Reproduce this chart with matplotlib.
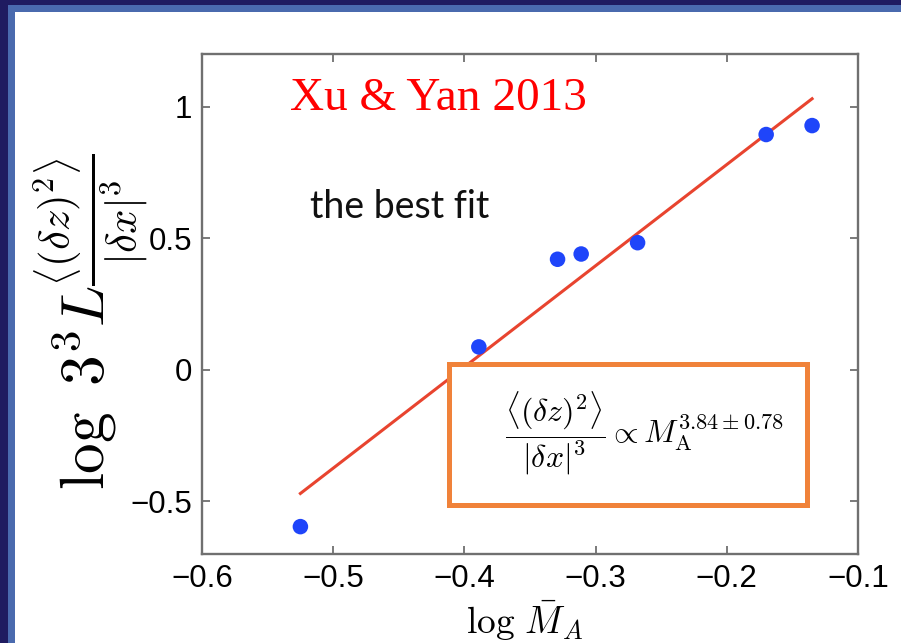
import matplotlib
matplotlib.use("Agg")
import matplotlib.pyplot as plt
from matplotlib.patches import Rectangle

plt.rcParams['mathtext.fontset'] = 'cm'

# Measured points and best-fit line
log_ma = [-0.525, -0.389, -0.329, -0.311, -0.268, -0.170, -0.135]
log_ratio = [-0.596, 0.087, 0.420, 0.440, 0.483, 0.894, 0.928]
fit_x = [-0.525, -0.135]
fit_y = [-0.47, 1.03]

x_ticks = [-0.6, -0.5, -0.4, -0.3, -0.2, -0.1]
y_ticks = [-0.5, 0, 0.5, 1]

fig = plt.figure(figsize=(9.01, 6.43), dpi=100)
fig.patch.set_facecolor('#1f1b60')

# slide frame: light blue stripe and white panel
W, H = 901.0, 643.0
fig.patches.append(Rectangle((8 / W, 0), 1, (H - 5) / H, transform=fig.transFigure,
                             facecolor='#4a6aae', edgecolor='none', zorder=-10))
fig.patches.append(Rectangle((15 / W, 0), 1, (H - 12) / H, transform=fig.transFigure,
                             facecolor='white', edgecolor='none', zorder=-9))

ax = fig.add_axes([202 / W, 1 - 554 / H, 656 / W, 500 / H])
ax.set_facecolor('none')

ax.plot(fit_x, fit_y, color='#e8442f', linewidth=2.2, zorder=2)
ax.scatter(log_ma, log_ratio, s=125, color='#1f45fa', edgecolors='none', zorder=3)

ax.set_xlim(-0.6, -0.1)
ax.set_ylim(-0.7, 1.2)
ax.set_xticks(x_ticks)
ax.set_yticks(y_ticks)
ax.set_xticklabels(['\u22120.6', '\u22120.5', '\u22120.4', '\u22120.3', '\u22120.2', '\u22120.1'])
ax.set_yticklabels(['\u22120.5', '0', '0.5', '1'])
ax.tick_params(direction='in', length=6, width=1.3, color='#707070',
               top=True, right=True, pad=7, labelsize=22.5)
for lab in ax.get_xticklabels() + ax.get_yticklabels():
    lab.set_fontfamily('Liberation Sans')
for sp in ax.spines.values():
    sp.set_color('#707070')
    sp.set_linewidth(1.7)

ax.set_xlabel(r'$\log\,\bar{M}_A$', fontsize=27)
ax.xaxis.set_label_coords(0.492, -0.088)
ax.set_ylabel(r'$\log\ 3^3 L \frac{\left\langle(\delta z)^2\right\rangle}{|\delta x|^3}$',
              fontsize=44)
ax.yaxis.set_label_coords(-0.08, 0.465)

ax.text(0.134, 0.888, 'Xu & Yan 2013', transform=ax.transAxes, color='red',
        fontsize=34, family='Liberation Serif', va='baseline', zorder=5)
ax.text(0.165, 0.672, 'the best fit', transform=ax.transAxes, color='#111111',
        fontsize=27, family='Lato', va='baseline', zorder=5)

box = Rectangle((0.377, 0.099), 0.545, 0.282, transform=ax.transAxes,
                facecolor='white', edgecolor='#f0823a', linewidth=3.6, zorder=4)
ax.add_patch(box)
ax.text(0.674, 0.242,
        r'$\dfrac{\langle(\delta z)^2\rangle}{|\delta x|^3} \propto M_{\rm A}^{3.84\pm0.78}$',
        transform=ax.transAxes, fontsize=23, ha='center', va='center', zorder=5)

fig.savefig('out.png', dpi=100, facecolor=fig.get_facecolor())
